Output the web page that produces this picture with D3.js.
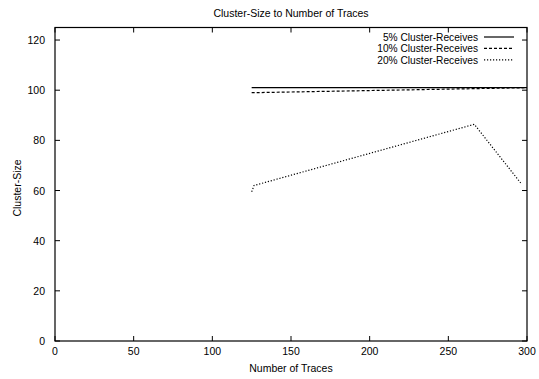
<!DOCTYPE html>
<html>
<head>
<meta charset="utf-8">
<script src="https://cdn.jsdelivr.net/npm/d3@7"></script>
<style>
  html, body { margin: 0; padding: 0; background: #fff; }
  svg { display: block; font-family: "Liberation Sans", Arial, Helvetica, sans-serif; }
</style>
</head>
<body>
<svg id="chart" width="539" height="379"></svg>
<script>
// Series: number of traces vs. cluster size
const series5 = [[125, 101], [300, 101]];
const series10 = [[125, 99], [300, 101]];
const series20 = [[125, 59.5], [126.5, 62], [266.5, 86.4], [296, 63]];
const seriesNames = ["5% Cluster-Receives", "10% Cluster-Receives", "20% Cluster-Receives"];
const seriesDash = [null, "3,2", "1.2,1.8"];
const xTicks = [0, 50, 100, 150, 200, 250, 300];
const yTicks = [0, 20, 40, 60, 80, 100, 120];
const titleText = "Cluster-Size to Number of Traces";
const xLabel = "Number of Traces";
const yLabel = "Cluster-Size";

const svg = d3.select("#chart");
const margin = { left: 55, right: 12, top: 27.5, bottom: 38 };
const W = 539, H = 379;
const x = d3.scaleLinear().domain([0, 300]).range([margin.left, W - margin.right]);
const y = d3.scaleLinear().domain([0, 125]).range([H - margin.bottom, margin.top]);
const fs = "10.5px";
const keyFs = "10.2px";
const tickLen = 5;

// frame
svg.append("rect")
  .attr("x", x(0)).attr("y", y(125))
  .attr("width", x(300) - x(0)).attr("height", y(0) - y(125))
  .attr("fill", "none").attr("stroke", "#000").attr("stroke-width", 1.2);

// inward ticks on all four sides
const tickG = svg.append("g").attr("stroke", "#000").attr("stroke-width", 1);
xTicks.forEach(t => {
  tickG.append("line").attr("x1", x(t)).attr("x2", x(t)).attr("y1", y(0)).attr("y2", y(0) - tickLen);
  tickG.append("line").attr("x1", x(t)).attr("x2", x(t)).attr("y1", y(125)).attr("y2", y(125) + tickLen);
});
yTicks.forEach(t => {
  tickG.append("line").attr("x1", x(0)).attr("x2", x(0) + tickLen).attr("y1", y(t)).attr("y2", y(t));
  tickG.append("line").attr("x1", x(300)).attr("x2", x(300) - tickLen).attr("y1", y(t)).attr("y2", y(t));
});

// tick labels
svg.append("g").selectAll("text").data(xTicks).join("text")
  .attr("x", d => x(d)).attr("y", y(0) + 13.5)
  .attr("text-anchor", "middle").attr("font-size", fs).attr("fill", "#000")
  .text(d => d);
svg.append("g").selectAll("text").data(yTicks).join("text")
  .attr("x", x(0) - 10).attr("y", d => y(d) + 4)
  .attr("text-anchor", "end").attr("font-size", fs).attr("fill", "#000")
  .text(d => d);

// title and axis labels
svg.append("text").attr("x", (x(0) + x(300)) / 2).attr("y", 16.5)
  .attr("text-anchor", "middle").attr("font-size", fs).text(titleText);
svg.append("text").attr("x", (x(0) + x(300)) / 2).attr("y", 371.5)
  .attr("text-anchor", "middle").attr("font-size", fs).text(xLabel);
svg.append("text").attr("transform", "translate(21,188) rotate(-90)")
  .attr("text-anchor", "middle").attr("font-size", fs).text(yLabel);

// lines
const line = d3.line().x(d => x(d[0])).y(d => y(d[1]));
[series5, series10, series20].forEach((s, i) => {
  svg.append("path").datum(s).attr("d", line)
    .attr("fill", "none").attr("stroke", "#000").attr("stroke-width", 1.2)
    .attr("stroke-dasharray", seriesDash[i]);
});

// key
const keyY = [37, 48.4, 59.8];
seriesNames.forEach((n, i) => {
  svg.append("text").attr("x", 478).attr("y", keyY[i] + 3.7)
    .attr("text-anchor", "end").attr("font-size", keyFs).text(n);
  svg.append("line").attr("x1", 484).attr("x2", 514).attr("y1", keyY[i]).attr("y2", keyY[i])
    .attr("stroke", "#000").attr("stroke-width", 1.2).attr("stroke-dasharray", seriesDash[i]);
});
</script>
</body>
</html>
